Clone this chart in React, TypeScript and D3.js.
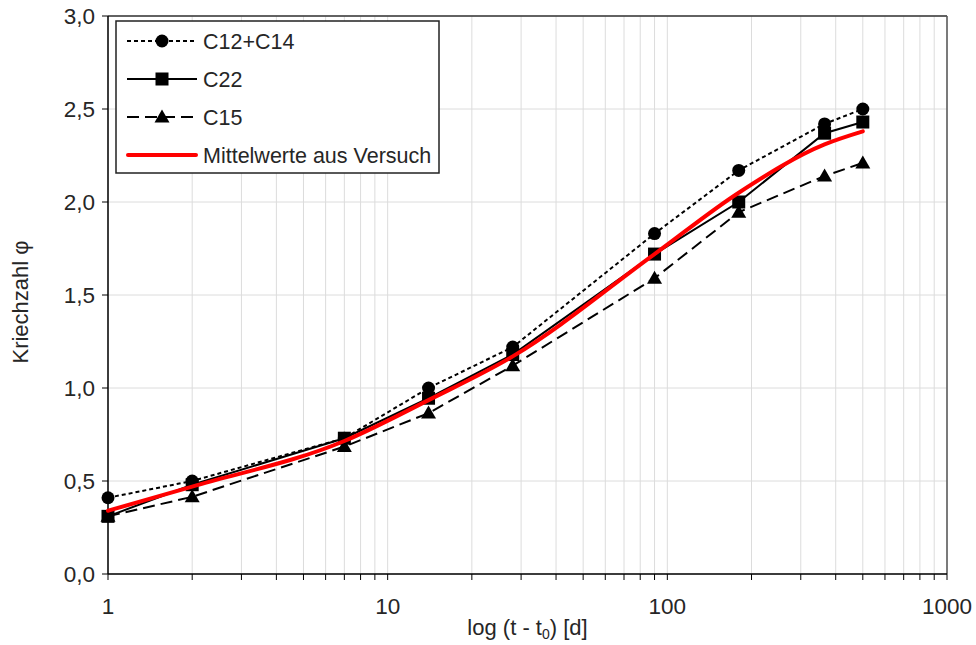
import React from "react";
import * as d3 from "d3";

const days = [1, 2, 7, 14, 28, 90, 180, 365, 500];
const c12c14 = [0.41, 0.50, 0.73, 1.0, 1.22, 1.83, 2.17, 2.42, 2.5];
const c22 = [0.31, 0.48, 0.73, 0.945, 1.18, 1.72, 2.0, 2.37, 2.43];
const c15 = [0.31, 0.415, 0.685, 0.865, 1.12, 1.59, 1.945, 2.14, 2.21];
const mean = [0.34, 0.47, 0.715, 0.935, 1.17, 1.72, 2.05, 2.31, 2.38];
const yTicks = [0, 0.5, 1.0, 1.5, 2.0, 2.5, 3.0];
const xTicks = [1, 10, 100, 1000];
const legendLabels = ["C12+C14", "C22", "C15", "Mittelwerte aus Versuch"];

const W = 976, H = 645;
const L = 108, R = 947, T = 16, B = 574;
const FONT = "'Liberation Sans', Arial, sans-serif";
const TXT = "#262626";

export default function App() {
  const x = d3.scaleLog().domain([1, 1000]).range([L, R]);
  const y = d3.scaleLinear().domain([0, 3]).range([B, T]);
  const minor: number[] = [];
  for (let d = 1; d < 1000; d *= 10) for (let k = 1; k <= 9; k++) minor.push(d * k);
  minor.push(1000);

  const line = d3.line<number>().x((_, i) => x(days[i])).y((v) => y(v));
  const smooth = d3.line<number>().x((_, i) => x(days[i])).y((v) => y(v)).curve(d3.curveMonotoneX);

  const circle = (cx: number, cy: number, k: string) => <circle key={k} cx={cx} cy={cy} r={6.5} fill="#000" />;
  const square = (cx: number, cy: number, k: string) => <rect key={k} x={cx - 6.5} y={cy - 6.5} width={13} height={13} fill="#000" />;
  const tri = (cx: number, cy: number, k: string) => (
    <path key={k} d={`M${cx},${cy - 7.5}L${cx + 7.5},${cy + 5.5}L${cx - 7.5},${cy + 5.5}Z`} fill="#000" />
  );

  const series = [
    { vals: c12c14, dash: "4,3", marker: circle },
    { vals: c22, dash: "", marker: square },
    { vals: c15, dash: "12,6", marker: tri },
  ];

  const legX = 116, legY = 21, legW = 323, legH = 152;
  const rows = [41, 79, 117, 155];

  return (
    <svg width={W} height={H} style={{ position: "absolute", left: 0, top: 0, background: "#fff" }} fontFamily={FONT}>
      <rect width={W} height={H} fill="#fff" />
      {/* grid */}
      {minor.map((m, i) => (
        <line key={"gx" + i} x1={x(m)} x2={x(m)} y1={T} y2={B} stroke="#dcdcdc" strokeWidth={1} />
      ))}
      {yTicks.map((t) => (
        <line key={"gy" + t} x1={L} x2={R} y1={y(t)} y2={y(t)} stroke="#dcdcdc" strokeWidth={1} />
      ))}
      {/* frame */}
      <line x1={L} x2={R} y1={T} y2={T} stroke="#333" strokeWidth={1.5} />
      <line x1={R} x2={R} y1={T} y2={B} stroke="#555" strokeWidth={1.5} />
      <line x1={L} x2={L} y1={T} y2={B} stroke="#000" strokeWidth={1.5} />
      <line x1={L} x2={R} y1={B} y2={B} stroke="#000" strokeWidth={1.5} />
      {/* ticks */}
      {yTicks.map((t) => (
        <g key={"yt" + t}>
          <line x1={L - 6} x2={L} y1={y(t)} y2={y(t)} stroke="#000" strokeWidth={1} />
          <text x={L - 13} y={y(t)} dy="0.36em" textAnchor="end" fontSize={22.5} fill={TXT}>
            {d3.format(".1f")(t).replace(".", ",")}
          </text>
        </g>
      ))}
      {minor.map((m, i) => (
        <line key={"xt" + i} x1={x(m)} x2={x(m)} y1={B} y2={B + 6} stroke="#000" strokeWidth={1} />
      ))}
      {xTicks.map((t) => (
        <text key={"xl" + t} x={x(t)} y={B + 40} textAnchor="middle" fontSize={22.5} fill={TXT}>
          {t}
        </text>
      ))}
      <text x={(L + R) / 2} y={635} textAnchor="middle" fontSize={22} fill={TXT}>
        log (t - t<tspan fontSize={14} dy={4}>0</tspan><tspan dy={-4}>) [d]</tspan>
      </text>
      <text transform={`translate(28,302) rotate(-90)`} textAnchor="middle" fontSize={22} fill={TXT}>
        Kriechzahl φ
      </text>
      {/* series */}
      {series.map((s, si) => (
        <g key={"s" + si}>
          <path d={line(s.vals) || ""} fill="none" stroke="#000" strokeWidth={2} strokeDasharray={s.dash} />
          {s.vals.map((v, i) => s.marker(x(days[i]), y(v), `m${si}-${i}`))}
        </g>
      ))}
      <path d={smooth(mean) || ""} fill="none" stroke="#ff0000" strokeWidth={4} strokeLinecap="round" />
      {/* legend */}
      <rect x={legX} y={legY} width={legW} height={legH} fill="#fff" stroke="#222" strokeWidth={1.5} />
      {series.map((s, si) => (
        <g key={"lg" + si}>
          <line x1={127} x2={197} y1={rows[si]} y2={rows[si]} stroke="#000" strokeWidth={2} strokeDasharray={s.dash} />
          {s.marker(162, rows[si], "lm" + si)}
          <text x={203} y={rows[si]} dy="0.36em" fontSize={21.5} fill={TXT}>{legendLabels[si]}</text>
        </g>
      ))}
      <line x1={128} x2={196} y1={rows[3]} y2={rows[3]} stroke="#ff0000" strokeWidth={4} strokeLinecap="round" />
      <text x={203} y={rows[3]} dy="0.36em" fontSize={21.5} fill={TXT}>{legendLabels[3]}</text>
    </svg>
  );
}
